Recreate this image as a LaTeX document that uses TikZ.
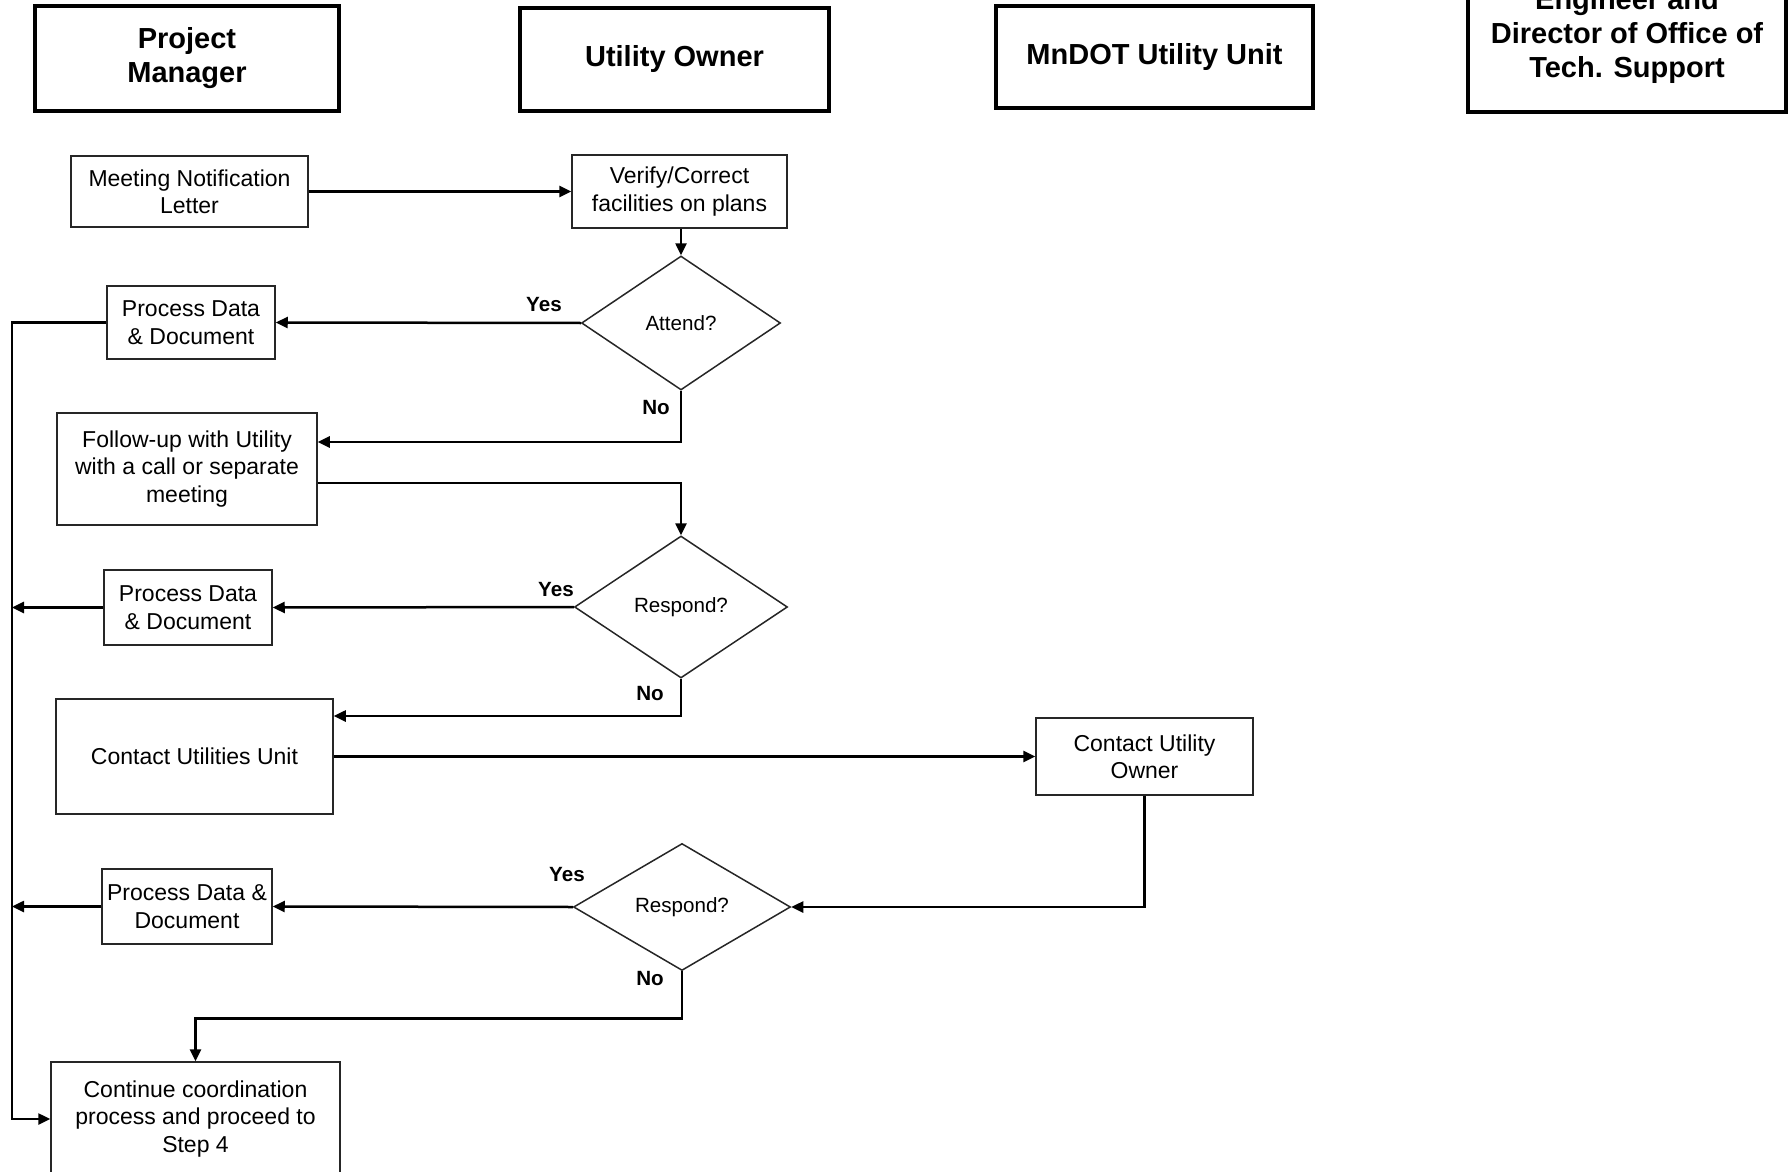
\documentclass[tikz,border=0pt]{standalone}
\usepackage{fontspec}
\setmainfont{Liberation Sans}
\usetikzlibrary{arrows.meta}
\usetikzlibrary{shapes.geometric}
\usetikzlibrary{positioning}
\tikzset{
    header box/.style={
        draw,
        line width=2pt,
        align=center,
        inner sep=0,
        font=\fontsize{14.5}{17}\selectfont\bfseries,
    },
    process box/.style={
        draw=black!85,
        line width=0.75pt,
        align=center,
        inner sep=0,
        font=\fontsize{11.5}{13.7}\selectfont,
    },
    decision/.style={
        draw=black!85,
        diamond,
        line width=0.75pt,
        inner sep=0,
        font=\fontsize{10.3}{12}\selectfont,
    },
    flow arrow/.style={
        line width=1.25pt,
        -{Triangle[length=6pt,width=5.5pt]},
    },
    branch label/.style={
        inner sep=0,
        font=\fontsize{10.3}{12}\selectfont\bfseries,
    },
}

\begin{document}
\begin{tikzpicture}[x=0.5pt, y=-0.5pt]

    \useasboundingbox (0,0) rectangle (1789,1172);
    \clip (0,0) rectangle (1789,1172);

    % lane headers
    \node[header box, minimum width=152pt, minimum height=52.5pt] (pm) at (187,58.5) {Project\\Manager};
    \node[header box, minimum width=154.5pt, minimum height=51.5pt] (uo) at (674.5,59.5) {Utility Owner};
    \node[header box, minimum width=158.5pt, minimum height=51pt] (mnu) at (1154.5,57) {MnDOT Utility Unit};
    \node[header box, minimum width=159pt, minimum height=76pt] (engdir) at (1627,36) {Engineer and\\Director of Office of\\Tech. Support};

    % steps
    \node[process box, minimum width=118.5pt, minimum height=35.5pt] (meet) at (189.5,191.5) {Meeting Notification\\Letter};
    \node[process box, minimum width=107.5pt, minimum height=36.5pt] (verify) at (679.5,191.5) {Verify/Correct\\facilities on plans};
    \node[decision, minimum width=99.5pt, minimum height=67pt] (attend) at (681,323) {Attend?};
    \node[process box, minimum width=84pt, minimum height=36.5pt] (pda) at (191,322.5) {Process Data\\\& Document};
    \node[process box, minimum width=130pt, minimum height=56pt] (follow) at (187,469) {Follow-up with Utility\\with a call or separate\\meeting};
    \node[decision, minimum width=106.5pt, minimum height=71pt] (respa) at (681,607) {Respond?};
    \node[process box, minimum width=84pt, minimum height=37.5pt] (pdb) at (188,607.5) {Process Data\\\& Document};
    \node[process box, minimum width=138.5pt, minimum height=57.5pt] (cuu) at (194.5,756.5) {Contact Utilities Unit};
    \node[process box, minimum width=108.5pt, minimum height=38.5pt] (cuo) at (1144.5,756.5) {Contact Utility\\Owner};
    \node[decision, minimum width=108.5pt, minimum height=63.5pt] (respb) at (682,907) {Respond?};
    \node[process box, minimum width=85pt, minimum height=37.5pt] (pdc) at (187,906.5) {Process Data \&\\Document};
    \node[process box, minimum width=144.5pt, minimum height=57pt] (cont) at (195.5,1119) {Continue coordination\\process and proceed to\\Step 4};

    % branch labels
    \node[branch label] (yesa) at (544,305) {Yes};
    \node[branch label] (noa) at (656,408) {No};
    \node[branch label] (yesb) at (556,590) {Yes};
    \node[branch label] (nob) at (650,694) {No};
    \node[branch label] (yesc) at (567,875) {Yes};
    \node[branch label] (noc) at (650,979) {No};

    % connectors
    \draw[flow arrow] (meet.east) -- (verify.west);
    \draw[flow arrow] (attend.north |- verify.south) -- (attend.north);
    \draw[flow arrow] (attend.west) -- (pda.east);
    \draw[flow arrow] (attend.south) |- ([yshift=13.5pt]follow.east);
    \draw[flow arrow] ([yshift=-7pt]follow.east) -| (respa.north);
    \draw[flow arrow] (respa.west) -- (pdb.east);
    \draw[flow arrow] (respa.south) |- ([yshift=20.25pt]cuu.east);
    \draw[flow arrow] (cuu.east) -- (cuo.west);
    \draw[flow arrow] (cuo.south) |- (respb.east);
    \draw[flow arrow] (respb.west) -- (pdc.east);
    \draw[flow arrow] (respb.south) -- ++(0,47) -| (cont.north);

    \coordinate (spine) at (12,322.5);
    \draw[flow arrow] (pda.west) -- (spine) -- (spine |- cont.west) -- (cont.west);
    \foreach \pd in {pdb,pdc}
    {
        \draw[flow arrow] (\pd.west) -- (spine |- \pd.west);
    }

\end{tikzpicture}
\end{document}
